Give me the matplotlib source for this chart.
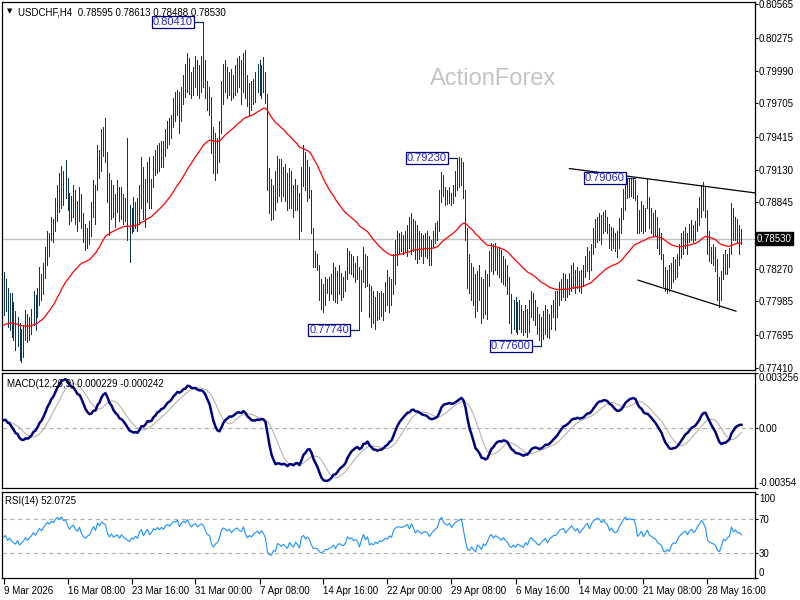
import numpy as np
import pandas as pd
import matplotlib
matplotlib.use("Agg")
import matplotlib.pyplot as plt

plt.rcParams['font.family'] = ['Liberation Sans', 'DejaVu Sans']

# H4 bars (bar 0 = 9 Mar 2026 00:00)
highs = [
    0.7824, 0.7818, 0.7810, 0.7806, 0.7806, 0.7798, 0.7790, 0.7785, 0.7780, 0.7775,
    0.7778, 0.7791, 0.7788, 0.7785, 0.7792, 0.7808, 0.7804, 0.7810, 0.7828, 0.7822,
    0.7832, 0.7846, 0.7860, 0.7858, 0.7872, 0.7870, 0.7888, 0.7900, 0.7910, 0.7916,
    0.7912, 0.7921, 0.7906, 0.7893, 0.7890, 0.7900, 0.7895, 0.7886, 0.7898, 0.7892,
    0.7875, 0.7866, 0.7862, 0.7868, 0.7885, 0.7904, 0.7900, 0.7934, 0.7930, 0.7948,
    0.7950, 0.7958, 0.7928, 0.7910, 0.7904, 0.7900, 0.7892, 0.7904, 0.7898, 0.7898,
    0.7892, 0.7888, 0.7940, 0.7882, 0.7880, 0.7889, 0.7885, 0.7888, 0.7900, 0.7924,
    0.7915, 0.7905, 0.7920, 0.7924, 0.7905, 0.7925, 0.7930, 0.7934, 0.7936, 0.7938,
    0.7938, 0.7948, 0.7955, 0.7958, 0.7960, 0.7975, 0.7980, 0.7982, 0.7980, 0.7985,
    0.7995, 0.8005, 0.8014, 0.8010, 0.7998, 0.8002, 0.8012, 0.8008, 0.8004, 0.8012,
    0.8041, 0.8008, 0.7990, 0.7985, 0.7976, 0.7950, 0.7945, 0.7940, 0.7955, 0.7990,
    0.8005, 0.8008, 0.8002, 0.7998, 0.8000, 0.7995, 0.8004, 0.8010, 0.8012, 0.8008,
    0.8014, 0.8017, 0.7995, 0.7988, 0.7990, 0.7992, 0.7998, 0.8005, 0.8008, 0.8004,
    0.8011, 0.7998, 0.7979, 0.7914, 0.7905, 0.7900, 0.7912, 0.7925, 0.7922, 0.7922,
    0.7915, 0.7918, 0.7910, 0.7914, 0.7912, 0.7900, 0.7905, 0.7900, 0.7893, 0.7915,
    0.7934, 0.7928, 0.7921, 0.7915, 0.7895, 0.7862, 0.7842, 0.7840, 0.7830, 0.7818,
    0.7814, 0.7820, 0.7818, 0.7820, 0.7822, 0.7832, 0.7828, 0.7825, 0.7830, 0.7823,
    0.7820, 0.7825, 0.7845, 0.7842, 0.7840, 0.7838, 0.7832, 0.7838, 0.7828, 0.7826,
    0.7846, 0.7840, 0.7838, 0.7814, 0.7812, 0.7808, 0.7802, 0.7808, 0.7806, 0.7808,
    0.7806, 0.7815, 0.7826, 0.7820, 0.7818, 0.7840, 0.7852, 0.7860, 0.7858, 0.7859,
    0.7856, 0.7860, 0.7865, 0.7872, 0.7875, 0.7870, 0.7868, 0.7865, 0.7860, 0.7858,
    0.7856, 0.7858, 0.7860, 0.7855, 0.7852, 0.7860, 0.7867, 0.7868, 0.7895, 0.7911,
    0.7908, 0.7898, 0.7895, 0.7898, 0.7893, 0.7900, 0.7912, 0.7923, 0.7924, 0.7923,
    0.7920, 0.7895, 0.7862, 0.7840, 0.7832, 0.7828, 0.7822, 0.7825, 0.7830, 0.7820,
    0.7818, 0.7826, 0.7822, 0.7842, 0.7849, 0.7848, 0.7849, 0.7845, 0.7846, 0.7843,
    0.7838, 0.7835, 0.7830, 0.7820, 0.7805, 0.7800, 0.7802, 0.7798, 0.7800, 0.7795,
    0.7790, 0.7795, 0.7792, 0.7800, 0.7808, 0.7806, 0.7800, 0.7794, 0.7788, 0.7785,
    0.7790, 0.7795, 0.7792, 0.7788, 0.7795, 0.7800, 0.7808, 0.7808, 0.7815, 0.7818,
    0.7823, 0.7822, 0.7818, 0.7823, 0.7830, 0.7832, 0.7826, 0.7828, 0.7825, 0.7826,
    0.7830, 0.7838, 0.7846, 0.7842, 0.7848, 0.7862, 0.7870, 0.7872, 0.7875, 0.7874,
    0.7876, 0.7878, 0.7872, 0.7866, 0.7863, 0.7862, 0.7858, 0.7860, 0.7871, 0.7880,
    0.7896, 0.7906, 0.7906, 0.7905, 0.7906, 0.7905, 0.7904, 0.7891, 0.7878, 0.7886,
    0.7882, 0.7880, 0.7905, 0.7889, 0.7880, 0.7875, 0.7878, 0.7872, 0.7862, 0.7858,
    0.7840, 0.7828, 0.7826, 0.7830, 0.7832, 0.7837, 0.7835, 0.7840, 0.7848, 0.7858,
    0.7860, 0.7863, 0.7858, 0.7866, 0.7869, 0.7865, 0.7868, 0.7880, 0.7889, 0.7900,
    0.7902, 0.7898, 0.7878, 0.7860, 0.7846, 0.7848, 0.7846, 0.7835, 0.7820, 0.7825,
    0.7840, 0.7843, 0.7840, 0.7845, 0.7884, 0.7880, 0.7872, 0.7870, 0.7865, 0.78613,
]
lows = [
    0.7787, 0.7790, 0.7776, 0.7774, 0.7768, 0.7765, 0.7756, 0.7760, 0.7748, 0.7746,
    0.7750, 0.7765, 0.7763, 0.7765, 0.7770, 0.7778, 0.7774, 0.7785, 0.7795, 0.7800,
    0.7805, 0.7819, 0.7830, 0.7838, 0.7852, 0.7850, 0.7860, 0.7868, 0.7876, 0.7880,
    0.7882, 0.7888, 0.7878, 0.7866, 0.7868, 0.7872, 0.7866, 0.7860, 0.7868, 0.7862,
    0.7850, 0.7843, 0.7845, 0.7848, 0.7855, 0.7872, 0.7866, 0.7895, 0.7906, 0.7912,
    0.7925, 0.7920, 0.7885, 0.7856, 0.7870, 0.7872, 0.7863, 0.7876, 0.7868, 0.7870,
    0.7866, 0.7868, 0.7852, 0.7833, 0.7858, 0.7860, 0.7862, 0.7860, 0.7866, 0.7880,
    0.7870, 0.7863, 0.7885, 0.7880, 0.7880, 0.7898, 0.7908, 0.7910, 0.7912, 0.7915,
    0.7915, 0.7925, 0.7932, 0.7935, 0.7940, 0.7950, 0.7955, 0.7960, 0.7945, 0.7955,
    0.7970, 0.7976, 0.7980, 0.7979, 0.7975, 0.7978, 0.7985, 0.7978, 0.7975, 0.7980,
    0.7985, 0.7975, 0.7965, 0.7960, 0.7927, 0.7910, 0.7904, 0.7910, 0.7920, 0.7945,
    0.7970, 0.7980, 0.7975, 0.7978, 0.7973, 0.7975, 0.7978, 0.7980, 0.7985, 0.7970,
    0.7980, 0.7975, 0.7968, 0.7960, 0.7965, 0.7970, 0.7972, 0.7980, 0.7978, 0.7975,
    0.7980, 0.7971, 0.7895, 0.7875, 0.7869, 0.7870, 0.7878, 0.7885, 0.7890, 0.7886,
    0.7890, 0.7886, 0.7878, 0.7880, 0.7880, 0.7872, 0.7878, 0.7878, 0.7853, 0.7860,
    0.7899, 0.7895, 0.7886, 0.7888, 0.7858, 0.7828, 0.7828, 0.7826, 0.7800, 0.7792,
    0.7789, 0.7795, 0.7806, 0.7800, 0.7805, 0.7800, 0.7798, 0.7797, 0.7805, 0.7800,
    0.7802, 0.7808, 0.7818, 0.7823, 0.7822, 0.7820, 0.7815, 0.7818, 0.7774, 0.7790,
    0.7815, 0.7811, 0.7812, 0.7785, 0.7776, 0.7780, 0.7775, 0.7782, 0.7783, 0.7786,
    0.7782, 0.7790, 0.7795, 0.7789, 0.7795, 0.7805, 0.7814, 0.7830, 0.7840, 0.7842,
    0.7840, 0.7842, 0.7838, 0.7845, 0.7840, 0.7842, 0.7835, 0.7832, 0.7835, 0.7838,
    0.7832, 0.7838, 0.7836, 0.7830, 0.7830, 0.7846, 0.7849, 0.7852, 0.7860, 0.7885,
    0.7890, 0.7882, 0.7883, 0.7884, 0.7882, 0.7884, 0.7890, 0.7895, 0.7898, 0.7900,
    0.7888, 0.7852, 0.7810, 0.7806, 0.7800, 0.7795, 0.7785, 0.7790, 0.7800, 0.7780,
    0.7784, 0.7788, 0.7783, 0.7812, 0.7825, 0.7822, 0.7826, 0.7822, 0.7820, 0.7815,
    0.7814, 0.7812, 0.7805, 0.7780, 0.7771, 0.7775, 0.7772, 0.7770, 0.7775, 0.7772,
    0.7769, 0.7772, 0.7768, 0.7772, 0.7785, 0.7782, 0.7778, 0.7770, 0.7765, 0.7760,
    0.7766, 0.7770, 0.7768, 0.7767, 0.7775, 0.7785, 0.7774, 0.7785, 0.7795, 0.7800,
    0.7802, 0.7800, 0.7802, 0.7805, 0.7808, 0.7810, 0.7806, 0.7810, 0.7808, 0.7806,
    0.7812, 0.7820, 0.7825, 0.7818, 0.7826, 0.7840, 0.7846, 0.7850, 0.7852, 0.7848,
    0.7858, 0.7860, 0.7858, 0.7845, 0.7843, 0.7845, 0.7842, 0.7837, 0.7845, 0.7858,
    0.7870, 0.7878, 0.7888, 0.7889, 0.7890, 0.7888, 0.7887, 0.7858, 0.7858, 0.7860,
    0.7858, 0.7860, 0.7880, 0.7862, 0.7858, 0.7855, 0.7856, 0.7845, 0.7840, 0.7835,
    0.7812, 0.7808, 0.7806, 0.7808, 0.7810, 0.7815, 0.7818, 0.7820, 0.7830, 0.7836,
    0.7840, 0.7845, 0.7840, 0.7850, 0.7852, 0.7850, 0.7852, 0.7860, 0.7865, 0.7872,
    0.7878, 0.7872, 0.7840, 0.7834, 0.7832, 0.7830, 0.7825, 0.7800, 0.7794, 0.7800,
    0.7818, 0.7822, 0.7822, 0.7828, 0.7840, 0.7852, 0.7852, 0.7850, 0.7840, 0.78488,
]
closes = [
    0.7800, 0.7808, 0.7785, 0.7795, 0.7780, 0.7772, 0.7765, 0.7778, 0.7755, 0.7762,
    0.7770, 0.7782, 0.7770, 0.7780, 0.7788, 0.7800, 0.7790, 0.7805, 0.7820, 0.7812,
    0.7828, 0.7840, 0.7855, 0.7850, 0.7866, 0.7862, 0.7882, 0.7895, 0.7890, 0.7905,
    0.7895, 0.7900, 0.7884, 0.7872, 0.7885, 0.7892, 0.7878, 0.7872, 0.7890, 0.7868,
    0.7856, 0.7850, 0.7858, 0.7862, 0.7880, 0.7898, 0.7885, 0.7925, 0.7915, 0.7940,
    0.7935, 0.7930, 0.7895, 0.7880, 0.7895, 0.7878, 0.7885, 0.7890, 0.7875, 0.7890,
    0.7880, 0.7872, 0.7865, 0.7860, 0.7872, 0.7868, 0.7878, 0.7870, 0.7895, 0.7905,
    0.7882, 0.7898, 0.7912, 0.7890, 0.7900, 0.7920, 0.7915, 0.7928, 0.7920, 0.7932,
    0.7925, 0.7942, 0.7950, 0.7945, 0.7955, 0.7970, 0.7968, 0.7978, 0.7960, 0.7978,
    0.7990, 0.7985, 0.8005, 0.7990, 0.7982, 0.7995, 0.8000, 0.7990, 0.7998, 0.8005,
    0.8000, 0.7985, 0.7972, 0.7970, 0.7935, 0.7920, 0.7930, 0.7935, 0.7950, 0.7985,
    0.7995, 0.7990, 0.7985, 0.7992, 0.7980, 0.7990, 0.7998, 0.8000, 0.7992, 0.7990,
    0.8008, 0.7985, 0.7972, 0.7980, 0.7975, 0.7985, 0.7990, 0.7995, 0.7988, 0.7998,
    0.7990, 0.7975, 0.7905, 0.7885, 0.7880, 0.7895, 0.7890, 0.7918, 0.7910, 0.7900,
    0.7908, 0.7895, 0.7885, 0.7905, 0.7890, 0.7880, 0.7898, 0.7885, 0.7865, 0.7910,
    0.7920, 0.7900, 0.7910, 0.7895, 0.7862, 0.7835, 0.7838, 0.7830, 0.7808, 0.7800,
    0.7805, 0.7812, 0.7810, 0.7815, 0.7818, 0.7825, 0.7806, 0.7818, 0.7822, 0.7815,
    0.7812, 0.7820, 0.7840, 0.7832, 0.7835, 0.7825, 0.7828, 0.7822, 0.7800, 0.7820,
    0.7840, 0.7818, 0.7830, 0.7790, 0.7795, 0.7788, 0.7798, 0.7790, 0.7800, 0.7796,
    0.7802, 0.7808, 0.7805, 0.7815, 0.7810, 0.7835, 0.7845, 0.7850, 0.7850, 0.7848,
    0.7852, 0.7855, 0.7860, 0.7850, 0.7868, 0.7858, 0.7845, 0.7855, 0.7850, 0.7845,
    0.7850, 0.7852, 0.7848, 0.7840, 0.7848, 0.7855, 0.7860, 0.7865, 0.7890, 0.7905,
    0.7895, 0.7890, 0.7888, 0.7895, 0.7886, 0.7895, 0.7905, 0.7910, 0.7915, 0.7920,
    0.7895, 0.7860, 0.7820, 0.7815, 0.7825, 0.7810, 0.7795, 0.7818, 0.7808, 0.7790,
    0.7810, 0.7800, 0.7815, 0.7838, 0.7845, 0.7830, 0.7840, 0.7835, 0.7828, 0.7820,
    0.7830, 0.7818, 0.7810, 0.7790, 0.7785, 0.7792, 0.7780, 0.7790, 0.7785, 0.7780,
    0.7775, 0.7788, 0.7778, 0.7795, 0.7800, 0.7790, 0.7785, 0.7775, 0.7772, 0.7780,
    0.7785, 0.7790, 0.7775, 0.7785, 0.7790, 0.7795, 0.7795, 0.7800, 0.7810, 0.7812,
    0.7815, 0.7805, 0.7812, 0.7818, 0.7825, 0.7820, 0.7815, 0.7822, 0.7812, 0.7820,
    0.7825, 0.7835, 0.7840, 0.7830, 0.7845, 0.7858, 0.7862, 0.7868, 0.7866, 0.7860,
    0.7870, 0.7865, 0.7862, 0.7850, 0.7858, 0.7850, 0.7848, 0.7852, 0.7865, 0.7875,
    0.7890, 0.7900, 0.7895, 0.7900, 0.7898, 0.7900, 0.7892, 0.7865, 0.7870, 0.7880,
    0.7865, 0.7875, 0.7885, 0.7870, 0.7868, 0.7862, 0.7860, 0.7850, 0.7845, 0.7840,
    0.7818, 0.7815, 0.7820, 0.7812, 0.7825, 0.7830, 0.7828, 0.7836, 0.7845, 0.7850,
    0.7855, 0.7858, 0.7850, 0.7860, 0.7865, 0.7858, 0.7862, 0.7875, 0.7882, 0.7895,
    0.7890, 0.7880, 0.7848, 0.7842, 0.7838, 0.7835, 0.7830, 0.7810, 0.7805, 0.7818,
    0.7835, 0.7830, 0.7838, 0.7842, 0.7875, 0.7860, 0.7868, 0.7858, 0.7860, 0.78530,
]

date_labels = ["9 Mar 2026", "16 Mar 08:00", "23 Mar 16:00", "31 Mar 00:00",
               "7 Apr 08:00", "14 Apr 16:00", "22 Apr 00:00", "29 Apr 08:00",
               "6 May 16:00", "14 May 00:00", "21 May 08:00", "28 May 16:00"]
# 0.78555 is hidden under the current-price tag, so it is left out
price_levels = [0.80565, 0.80275, 0.79990, 0.79705, 0.79415, 0.79130,
                0.78845, 0.78270, 0.77985, 0.77695, 0.77410]
last_price = 0.78530

# indicator state just before the first visible bar
ma_start = 0.7777
ema12_start = 0.7800
ema26_start = 0.7795
rsi_gain_start = 0.0007
rsi_loss_start = 0.00075

# swing high / low labels: (bar, price)
swing_points = [(100, 0.80410), (178, 0.77740), (227, 0.79230), (269, 0.77600), (316, 0.79060)]
# drawn trend lines: (bar, price) pairs
upper_line = [(283, 0.79139), (376, 0.78927)]
lower_line = [(317.3, 0.78170), (366.2, 0.77901)]


def ema(values, period, start):
    k = 2.0 / (period + 1)
    out = []
    prev = start
    for v in values:
        prev = prev + k * (v - prev)
        out.append(prev)
    return np.array(out)


x = np.arange(len(closes))
ma55 = ema(closes, 55, ma_start)
macd = ema(closes, 12, ema12_start) - ema(closes, 26, ema26_start)
signal = pd.Series(macd).rolling(9, min_periods=1).mean().values

diffs = np.diff(closes, prepend=closes[0])
ag, al = rsi_gain_start, rsi_loss_start
rsi = []
for d in diffs:
    ag = (ag * 13 + max(d, 0)) / 14
    al = (al * 13 + max(-d, 0)) / 14
    rsi.append(100 - 100 / (1 + ag / al))

W, H = 800, 600
fig = plt.figure(figsize=(8, 6), dpi=100)
L, R = 2, 755
xlim = ((L - 3.5) / 2, (R - 3.5) / 2)


def panel(top, bottom):
    ax = fig.add_axes([L / W, (H - bottom) / H, (R - L) / W, (bottom - top) / H])
    ax.set_xlim(*xlim)
    ax.yaxis.tick_right()
    ax.tick_params(axis='y', direction='out', length=2, width=0.8, pad=0.8,
                   labelsize=7, colors='black')
    for s in ax.spines.values():
        s.set_linewidth(0.9)
    return ax


bar_col = '#0c3654'

# ---- price panel
ax = panel(2, 370)
ax.set_ylim(0.77390, 0.80585)
ax.set_xticks([])
ax.set_yticks(price_levels)
ax.set_yticklabels([f"{p:.5f}" for p in price_levels])
ax.axhline(last_price, color='#c0c0c0', lw=1, zorder=1)
ax.vlines(x, lows, highs, color=bar_col, lw=0.6, antialiased=False, zorder=2)
ax.plot(x, ma55, color='red', lw=0.9, zorder=3)
ax.plot(*zip(*upper_line), color='black', lw=0.9, zorder=3)
ax.plot(*zip(*lower_line), color='black', lw=0.9, zorder=3)
for bar, price in swing_points:
    ax.plot([bar - 5, bar], [price, price], color='#0a2a5a', lw=0.9, zorder=4)
    ax.text(bar - 5.3, price, f"{price:.5f}", ha='right', va='center', fontsize=8,
            color='#2828c8', zorder=5,
            bbox=dict(boxstyle='square,pad=0.1', fc='white', ec='#000080', lw=0.9))
ax.text(0.652, 0.79, "ActionForex", transform=ax.transAxes, ha='center', va='center',
        fontsize=17, color='#c4c4c4')
ax.text(0.021, 0.985, "USDCHF,H4  0.78595 0.78613 0.78488 0.78530", transform=ax.transAxes,
        ha='left', va='top', fontsize=7)
ax.text(0.006, 0.983, "\u25bc", transform=ax.transAxes, ha='left', va='top', fontsize=5,
        family='DejaVu Sans')
ax.annotate(f"{last_price:.5f}", xy=(1, last_price), xycoords=('axes fraction', 'data'),
            xytext=(1.5, 0), textcoords='offset points', ha='left', va='center',
            fontsize=7, color='white', annotation_clip=False, zorder=10,
            bbox=dict(boxstyle='square,pad=0.15', fc='black', ec='black'))

# ---- MACD panel
axm = panel(373, 488)
axm.set_ylim(-0.00354, 0.003256)
axm.set_xticks([])
axm.set_yticks([0.003256, 0.0, -0.00354])
axm.set_yticklabels(["0.003256", "0.00", "-0.00354"])
labs = axm.get_yticklabels()
labs[0].set_va('top')
labs[2].set_va('bottom')
axm.axhline(0, color='#b0b0b0', lw=0.8, ls=(0, (4, 3)))
axm.plot(x, signal, color='#b4b4b4', lw=0.8)
axm.plot(x, macd, color='#000080', lw=1.8)
axm.text(0.006, 0.95, "MACD(12,26,9) 0.000229 -0.000242", transform=axm.transAxes,
         ha='left', va='top', fontsize=7)

# ---- RSI panel
axr = panel(492, 578)
axr.set_ylim(0.9, 102.1)
axr.set_yticks([100, 70, 30, 0])
axr.set_yticklabels(["100", "70", "30", "0"])
labs = axr.get_yticklabels()
labs[0].set_va('top')
labs[3].set_va('bottom')
for lvl in (70, 30):
    axr.axhline(lvl, color='#b0b0b0', lw=0.8, ls=(0, (4, 3)))
axr.plot(x, rsi, color='#1e90ff', lw=0.8)
axr.text(0.004, 0.95, "RSI(14) 52.0725", transform=axr.transAxes,
         ha='left', va='top', fontsize=7)
axr.set_xticks(np.arange(0, 353, 32))
axr.set_xticklabels(date_labels, ha='left')
axr.tick_params(axis='x', direction='out', length=4, width=0.8, pad=2, labelsize=7)

fig.savefig("out.png", dpi=100)
